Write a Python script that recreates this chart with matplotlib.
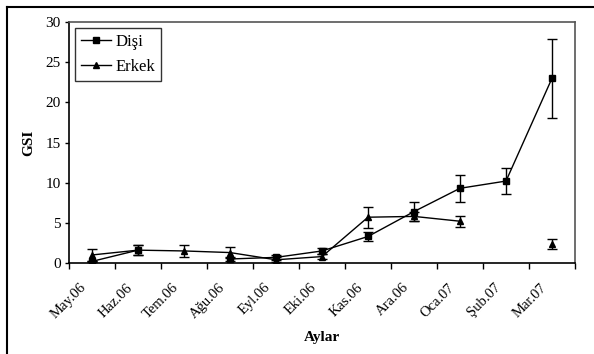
import matplotlib
matplotlib.use("Agg")
import matplotlib.pyplot as plt
import matplotlib.transforms as mtransforms
from matplotlib.lines import Line2D
import numpy as np

months = ["May.06", "Haz.06", "Tem.06", "Ağu.06", "Eyl.06", "Eki.06",
          "Kas.06", "Ara.06", "Oca.07", "Şub.07", "Mar.07"]
disi = [0.2, 1.6, np.nan, 0.5, 0.7, 1.5, 3.3, 6.4, 9.3, 10.2, 23.0]
disi_err = [0.1, 0.65, np.nan, 0.2, 0.3, 0.4, 0.6, 1.2, 1.7, 1.65, 4.9]
erkek = [1.0, 1.6, 1.5, 1.3, 0.4, 0.8, 5.7, 5.8, 5.2, np.nan, 2.4]
erkek_err = [0.8, 0.6, 0.7, 0.7, 0.3, 0.3, 1.3, 0.6, 0.7, np.nan, 0.6]
yticks = [0, 5, 10, 15, 20, 25, 30]

plt.rcParams['font.family'] = ['Liberation Serif', 'DejaVu Serif']

fig = plt.figure(figsize=(5.94, 3.54), dpi=100)
ax = fig.add_axes([69/594, 1-263/354, (575-69)/594, (263-22)/354])

x = np.arange(len(months))
ax.errorbar(x, disi, yerr=disi_err, color='black', marker='s', markersize=4,
            linewidth=1.0, elinewidth=1.0, capsize=3.5, capthick=1.0)
ax.errorbar(x, erkek, yerr=erkek_err, color='black', marker='^', markersize=5,
            linewidth=1.0, elinewidth=1.0, capsize=3.5, capthick=1.0)

ax.set_xlim(-0.5, len(months) - 0.5)
ax.set_ylim(0, 30)
ax.set_yticks(yticks)
ax.set_yticklabels([str(v) for v in yticks], fontsize=11)
ax.tick_params(axis='y', direction='out', length=3, width=1, pad=3)

ax.set_xticks(np.arange(-0.5, len(months), 1.0))
ax.set_xticklabels([])
ax.tick_params(axis='x', which='major', direction='out', length=4, width=1)
ax.set_xticks(x, minor=True)
ax.set_xticklabels(months, minor=True, rotation=45, ha='right',
                   rotation_mode='anchor', fontsize=10.5)
ax.tick_params(axis='x', which='minor', length=0, pad=13)
offset = mtransforms.ScaledTranslation(-12/100, 0, fig.dpi_scale_trans)
for lbl in ax.get_xticklabels(minor=True):
    lbl.set_transform(lbl.get_transform() + offset)

for s in ['left', 'bottom']:
    ax.spines[s].set_color('black')
    ax.spines[s].set_linewidth(1.2)
for s in ['top', 'right']:
    ax.spines[s].set_color('#555555')
    ax.spines[s].set_linewidth(1.2)

ax.set_ylabel('GSI', fontsize=11, fontweight='bold', labelpad=7)
fig.text(322/594, 1-337/354, 'Aylar', fontsize=11, fontweight='bold',
         ha='center', va='center')

handles = [Line2D([], [], color='black', marker='s', markersize=4, linewidth=1.0),
           Line2D([], [], color='black', marker='^', markersize=5, linewidth=1.0)]
leg = fig.legend(handles, ['Dişi', 'Erkek'], loc='upper left',
                 bbox_to_anchor=(75/594, 1 - 28/354),
                 frameon=True, fancybox=False,
                 edgecolor='black', fontsize=12, handlelength=1.8,
                 borderaxespad=0, borderpad=0.35, labelspacing=0.55, handletextpad=0.3)
leg.get_frame().set_linewidth(1.0)

# outer chart frame (top and left edges visible)
fig.add_artist(Line2D([7/594, 1], [1-7/354, 1-7/354], color='black', linewidth=1.5,
                      transform=fig.transFigure))
fig.add_artist(Line2D([7/594, 7/594], [0, 1-7/354], color='black', linewidth=1.5,
                      transform=fig.transFigure))

fig.savefig('out.png', dpi=100)
